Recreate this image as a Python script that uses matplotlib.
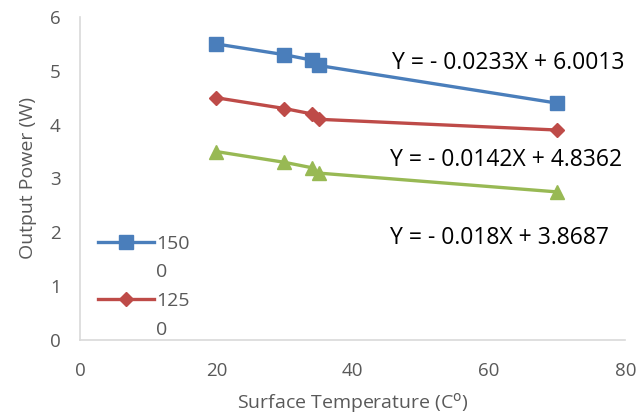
import matplotlib.pyplot as plt
from matplotlib.lines import Line2D

# dados
temp = [20, 30, 34, 35, 70]
p_1500 = [5.5, 5.3, 5.2, 5.1, 4.4]
p_1250 = [4.5, 4.3, 4.2, 4.1, 3.9]
p_1000 = [3.5, 3.3, 3.2, 3.1, 2.75]
equacoes = ['Y = - 0.0233X + 6.0013', 'Y = - 0.0142X + 4.8362', 'Y = - 0.018X + 3.8687']
pos_eq = [(45.8, 5.15), (45.5, 3.35), (45.5, 1.9)]

plt.rcParams['font.family'] = ['Open Sans', 'DejaVu Sans']
cinza = '#595959'

fig = plt.figure(figsize=(6.4, 4.16), dpi=100)
ax = fig.add_axes([0.125, 0.183, 0.852, 0.776])

azul, = ax.plot(temp, p_1500, color='#4A7EBB', marker='s', markersize=10, linewidth=2.4)
verm, = ax.plot(temp, p_1250, color='#BE4B48', marker='D', markersize=7, linewidth=2.4)
ax.plot(temp, p_1000, color='#98B954', marker='^', markersize=10, linewidth=2.4)

for txt, (x, y) in zip(equacoes, pos_eq):
    ax.text(x, y, txt, fontsize=16.5, color='black', va='center', ha='left', clip_on=False)

ax.set_xlim(0, 80)
ax.set_ylim(0, 6)
ax.set_xticks([0, 20, 40, 60, 80])
ax.set_yticks([0, 1, 2, 3, 4, 5, 6])
ax.set_xlabel('Surface Temperature (C$^{\\mathrm{o}}$)', fontsize=14, color=cinza, labelpad=8)
ax.set_ylabel('Output Power (W)', fontsize=14, color=cinza, labelpad=9)
ax.tick_params(colors=cinza, labelsize=13.5, length=0, pad=16)
ax.tick_params(axis='y', pad=14)

for s in ['top', 'right']:
    ax.spines[s].set_visible(False)
for s in ['left', 'bottom']:
    ax.spines[s].set_color('#D9D9D9')
    ax.spines[s].set_linewidth(1.2)

# legenda com rótulos quebrados em duas linhas (como no original)
vazio = Line2D([], [], linestyle='none')
leg = ax.legend([azul, vazio, verm, vazio], ['150', '0', '125', '0'],
                loc='upper left', bbox_to_anchor=(0.018, 0.35), frameon=False,
                fontsize=14, handlelength=2.9, handletextpad=0.1, labelspacing=0.55,
                borderaxespad=0)
for t in leg.get_texts():
    t.set_color(cinza)

plt.savefig('out.png', dpi=100)
